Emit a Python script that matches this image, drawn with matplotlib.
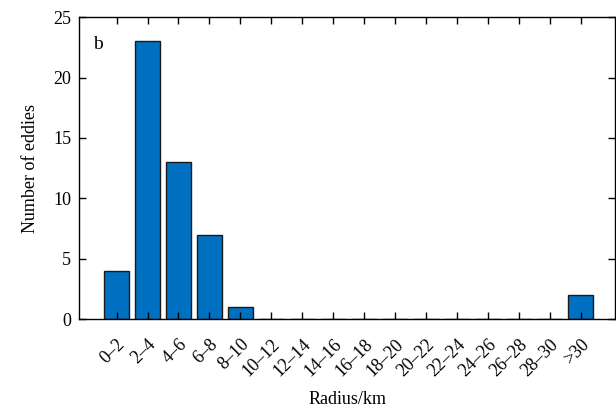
import matplotlib.pyplot as plt
import numpy as np

# radius bins and eddy counts
bins = ['0–2', '2–4', '4–6', '6–8', '8–10', '10–12', '12–14', '14–16',
        '16–18', '18–20', '20–22', '22–24', '24–26', '26–28', '28–30', '>30']
counts = [4, 23, 13, 7, 1, 0, 0, 0, 0, 0, 0, 0, 0, 0, 0, 2]
yticks = [0, 5, 10, 15, 20, 25]

plt.rcParams['font.family'] = ['Liberation Serif', 'DejaVu Serif']
plt.rcParams['font.size'] = 13

fig = plt.figure(figsize=(6.16, 4.08), dpi=100)
ax = fig.add_axes([0.129, 0.218, 0.869, 0.740])

x = np.arange(len(bins))
ax.bar(x, counts, width=0.82, color='#0070C0', edgecolor='#1a1a1a', linewidth=1.0)

ax.set_xlim(-1.2, 16.1)
ax.set_ylim(0, 25)
ax.set_yticks(yticks)
ax.set_xticks(x)
ax.set_xticklabels(bins, rotation=45, ha='right', rotation_mode='anchor')

ax.tick_params(direction='in', top=True, right=True, length=5, width=1)
ax.tick_params(axis='x', pad=12)
ax.tick_params(axis='y', pad=6)
for s in ax.spines.values():
    s.set_linewidth(1)

ax.set_ylabel('Number of eddies', labelpad=10)
ax.set_xlabel('Radius/km', labelpad=8)
ax.text(0.025, 0.895, 'b', transform=ax.transAxes, fontsize=14)

fig.savefig('out.png', dpi=100)
